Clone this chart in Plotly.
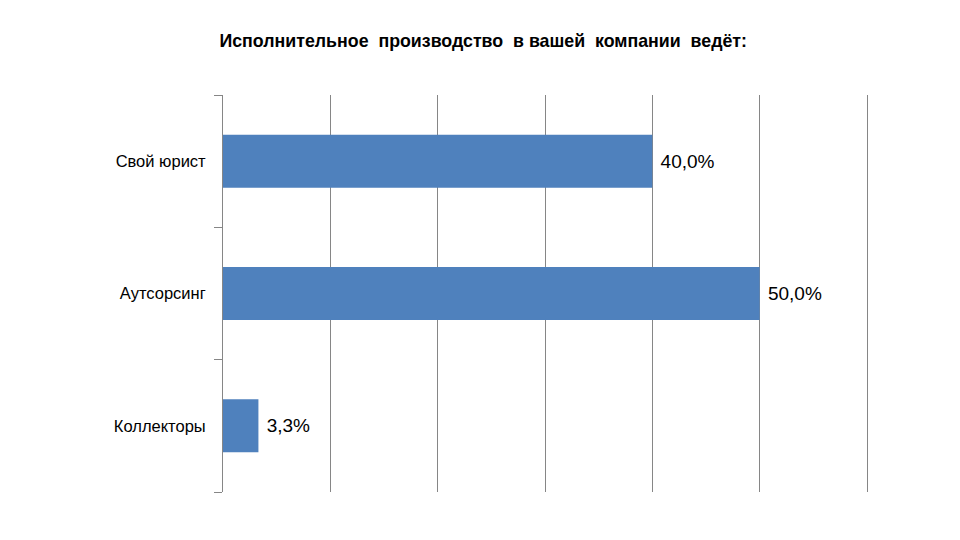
import plotly.graph_objects as go

categories = ["Свой юрист", "Аутсорсинг", "Коллекторы"]
values = [40.0, 50.0, 3.3]
title_text = "Исполнительное  производство  в вашей  компании  ведёт:"

fig = go.Figure(go.Bar(
    y=categories,
    x=values,
    orientation="h",
    marker=dict(color="#4F81BD", line=dict(width=0)),
    texttemplate="\u00a0%{x:.1f}%",
    textposition="outside",
    textfont=dict(size=19, color="#000000", family="Liberation Sans"),
    cliponaxis=False,
))

fig.update_layout(
    width=960, height=540,
    paper_bgcolor="white", plot_bgcolor="white",
    separators=", ",
    margin=dict(l=215, r=101, t=87, b=56),
    bargap=0.6,
    showlegend=False,
    title=dict(text="<b>" + title_text + "</b>", x=0.495, xanchor="center",
               y=0.94, yanchor="middle",
               font=dict(size=17.8, color="#000000", family="Liberation Sans")),
    xaxis=dict(range=[0, 60], dtick=10, tick0=0, showticklabels=False,
               showgrid=True, gridcolor="#868686", gridwidth=1,
               zeroline=False, showline=False, ticks=""),
    yaxis=dict(categoryorder="array", categoryarray=categories[::-1],
               autorange=True, showline=True, mirror=True,
               linecolor="#868686", linewidth=1,
               ticks="outside", tickson="boundaries", ticklen=8, tickcolor="#868686",
               ticklabelstandoff=13,
               tickfont=dict(size=16.5, color="#000000", family="Liberation Sans"),
               showgrid=False),
)

fig.write_html("out.html")
